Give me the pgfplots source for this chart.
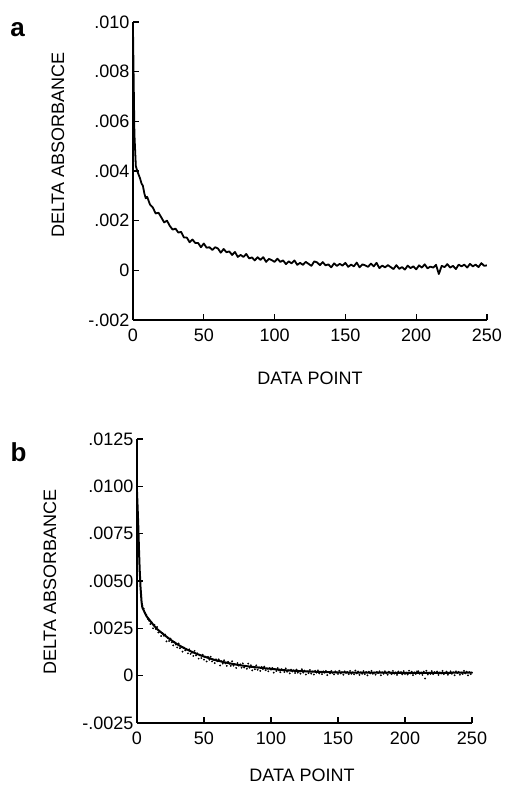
\documentclass[border=0pt]{standalone}
\usepackage{fontspec}
\setmainfont{Liberation Sans}
\usepackage{pgfplots}
\usepackage{pgfplotstable}
\pgfplotsset{compat=1.18}

\pgfplotstableread{
x y
0 0.0097
1 0.0055
2 0.0042
3 0.0040
4 0.00385
5 0.0037
6 0.0035
7 0.0034
8 0.0031
9 0.0029
10 0.00296
12 0.00265
14 0.00253
16 0.00229
18 0.00232
20 0.00213
22 0.00193
24 0.00200
26 0.00179
28 0.00164
30 0.00168
32 0.00152
34 0.00155
36 0.00132
38 0.00132
40 0.00113
42 0.00124
44 0.00110
46 0.00110
48 0.00093
50 0.00108
52 0.00091
54 0.00093
56 0.00082
58 0.00093
60 0.00088
62 0.00071
64 0.00086
66 0.00073
68 0.00076
70 0.00062
72 0.00074
74 0.00054
76 0.00062
78 0.00054
80 0.00066
82 0.00048
84 0.00052
86 0.00040
88 0.00053
90 0.00042
92 0.00053
94 0.00034
96 0.00046
98 0.00041
100 0.00034
102 0.00047
104 0.00034
106 0.00040
108 0.00025
110 0.00036
112 0.00028
114 0.00040
116 0.00022
118 0.00030
120 0.00022
122 0.00034
124 0.00026
126 0.00018
128 0.00036
130 0.00032
132 0.00021
134 0.00033
136 0.00020
138 0.00024
140 0.00012
142 0.00028
144 0.00018
146 0.00026
148 0.00019
150 0.00030
152 0.00014
154 0.00023
156 0.00016
158 0.00031
160 0.00012
162 0.00024
164 0.00020
166 0.00014
168 0.00027
170 0.00016
172 0.00030
174 0.00009
176 0.00019
178 0.00012
180 0.00021
182 0.00013
184 0.00005
186 0.00021
188 0.00006
190 0.00013
192 0.00003
194 0.00019
196 0.00009
198 0.00016
200 0.00004
202 0.00020
204 0.00011
206 0.00024
208 0.00008
210 0.00015
212 0.00011
214 0.00022
216 -0.00015
218 0.00018
220 0.00013
222 0.00025
224 0.00011
226 0.00018
228 0.00005
230 0.00023
232 0.00016
234 0.00023
236 0.00011
238 0.00026
240 0.00016
242 0.00023
244 0.00013
246 0.00029
248 0.00018
250 0.00020
}\topdata

\pgfplotstableread{
x y
0 0.0097
0.5 0.0088
1 0.0078
1.5 0.0066
2 0.0056
2.6 0.0047
3.4 0.0039
4 0.0036
5 0.00345
7 0.00315
10 0.00288
12 0.00270
15 0.00246
20 0.00217
25 0.00190
30 0.00166
35 0.00146
40 0.00129
45 0.00114
50 0.00101
57 0.00085
65 0.00071
75 0.00057
85 0.00047
97 0.00038
110 0.00029
122 0.00024
135 0.00020
150 0.00017
175 0.00016
200 0.00015
225 0.00015
250 0.00016
}\fitdata

\pgfplotstableread{
x y
0 0.0096
1 0.0075
2 0.0055
3 0.0042
4 0.0037
5 0.00355
6 0.0033
7 0.0032
8 0.0030
9 0.0029
10 0.00273
11 0.00282
12 0.00250
13 0.00269
14 0.00247
15 0.00257
16 0.00228
17 0.00233
18 0.00209
19 0.00225
20 0.00211
21 0.00217
22 0.00181
23 0.00199
24 0.00183
25 0.00196
26 0.00176
27 0.00160
28 0.00177
29 0.00164
30 0.00149
31 0.00170
32 0.00145
33 0.00150
34 0.00127
35 0.00149
36 0.00134
37 0.00139
38 0.00118
39 0.00139
40 0.00115
41 0.00121
42 0.00104
43 0.00131
44 0.00107
45 0.00118
46 0.00090
47 0.00107
48 0.00093
49 0.00111
50 0.00085
51 0.00100
52 0.00075
53 0.00099
54 0.00084
55 0.00100
56 0.00075
57 0.00084
58 0.00066
59 0.00086
60 0.00076
61 0.00086
62 0.00054
63 0.00076
64 0.00064
65 0.00081
66 0.00065
67 0.00052
68 0.00073
69 0.00063
70 0.00052
71 0.00076
72 0.00053
73 0.00061
74 0.00041
75 0.00066
76 0.00053
77 0.00060
78 0.00042
79 0.00065
80 0.00043
81 0.00051
82 0.00036
83 0.00064
84 0.00042
85 0.00055
86 0.00028
87 0.00047
88 0.00034
89 0.00054
90 0.00031
91 0.00044
92 0.00025
93 0.00046
94 0.00035
95 0.00048
96 0.00029
97 0.00037
98 0.00023
99 0.00040
100 0.00032
101 0.00041
102 0.00016
103 0.00034
104 0.00025
105 0.00040
106 0.00027
107 0.00018
108 0.00034
109 0.00028
110 0.00019
111 0.00038
112 0.00021
113 0.00027
114 0.00012
115 0.00032
116 0.00022
117 0.00028
118 0.00014
119 0.00032
120 0.00016
121 0.00022
122 0.00011
123 0.00034
124 0.00016
125 0.00027
126 0.00006
127 0.00022
128 0.00013
129 0.00030
130 0.00011
131 0.00022
132 0.00006
133 0.00025
134 0.00016
135 0.00028
136 0.00012
137 0.00019
138 0.00008
139 0.00023
140 0.00016
141 0.00025
142 0.00003
143 0.00020
144 0.00012
145 0.00025
146 0.00015
147 0.00007
148 0.00023
149 0.00017
150 0.00009
151 0.00026
152 0.00012
153 0.00018
154 0.00005
155 0.00023
156 0.00015
157 0.00020
158 0.00008
159 0.00025
160 0.00010
161 0.00017
162 0.00007
163 0.00027
164 0.00012
165 0.00022
166 0.00004
167 0.00018
168 0.00010
169 0.00024
170 0.00008
171 0.00019
172 0.00002
173 0.00021
174 0.00012
175 0.00025
176 0.00010
177 0.00016
178 0.00005
179 0.00020
180 0.00014
181 0.00023
182 0.00002
183 0.00018
184 0.00010
185 0.00023
186 0.00013
187 0.00005
188 0.00021
189 0.00015
190 0.00008
191 0.00025
192 0.00011
193 0.00017
194 0.00004
195 0.00022
196 0.00014
197 0.00019
198 0.00007
199 0.00024
200 0.00009
201 0.00016
202 0.00006
203 0.00026
204 0.00012
205 0.00021
206 0.00003
207 0.00017
208 0.00009
209 0.00023
210 0.00023
211 0.00010
212 0.00017
213 0.00004
214 0.00021
215 -0.00015
216 0.00026
217 0.00006
218 0.00016
219 0.00009
220 0.00024
221 0.00008
222 0.00019
223 0.00014
224 0.00022
225 0.00004
226 0.00017
227 0.00011
228 0.00025
229 0.00008
230 0.00015
231 0.00021
232 0.00005
233 0.00013
234 0.00023
235 0.00010
236 0.00018
237 0.00002
238 0.00023
239 0.00014
240 0.00020
241 0.00005
242 0.00016
243 0.00009
244 0.00025
245 0.00012
246 0.00021
247 0.00002
248 0.00019
249 0.00008
250 0.00016
}\dotdata

\begin{document}
\begin{tikzpicture}[x=1pt,y=1pt]
\useasboundingbox (0,0) rectangle (504,785);
\pgfplotsset{
  common/.style={
    scale only axis,
    axis lines*=left,
    tick align=inside,
    major tick length=6pt,
    axis line style={line width=1.4pt},
    every tick/.style={black, line width=1.3pt},
    tick label style={font=\fontsize{18}{18}\selectfont},
    xticklabel style={yshift=-5pt},
    scaled y ticks=false,
    scaled x ticks=false,
    xmin=0, xmax=250,
    xtick={0,50,100,150,200,250},
    xticklabels={0,50,100,150,200,250},
  }
}
\begin{axis}[common,
  at={(133pt,465pt)}, anchor=south west,
  width=354pt, height=298pt,
  ymin=-0.002, ymax=0.010,
  ytick={-0.002,0,0.002,0.004,0.006,0.008,0.010},
  yticklabels={-.002,0,.002,.004,.006,.008,.010},
]
\addplot[black, line width=1.8pt, line join=round] table[x=x,y=y]{\topdata};
\end{axis}

\begin{axis}[common,
  at={(137pt,62pt)}, anchor=south west,
  width=335pt, height=284pt,
  ymin=-0.0025, ymax=0.0125,
  ytick={-0.0025,0,0.0025,0.005,0.0075,0.01,0.0125},
  yticklabels={-.0025,0,.0025,.0050,.0075,.0100,.0125},
]
\addplot[black, only marks, mark=*, mark size=0.7pt] table[x=x,y=y]{\dotdata};
\addplot[black, line width=2pt, line join=round] table[x=x,y=y]{\fitdata};
\end{axis}

\node[rotate=90, font=\fontsize{18}{18}\selectfont] at (58,640) {DELTA ABSORBANCE};
\node[font=\fontsize{18}{18}\selectfont] at (310,407) {DATA POINT};
\node[anchor=base, font=\bfseries\fontsize{26}{26}\selectfont] at (17.5,748) {a};

\node[rotate=90, font=\fontsize{18}{18}\selectfont] at (50,203) {DELTA ABSORBANCE};
\node[anchor=base, font=\fontsize{18}{18}\selectfont] at (302,4) {DATA POINT};
\node[anchor=base, font=\bfseries\fontsize{26}{26}\selectfont] at (18.5,323) {b};
\end{tikzpicture}
\end{document}
